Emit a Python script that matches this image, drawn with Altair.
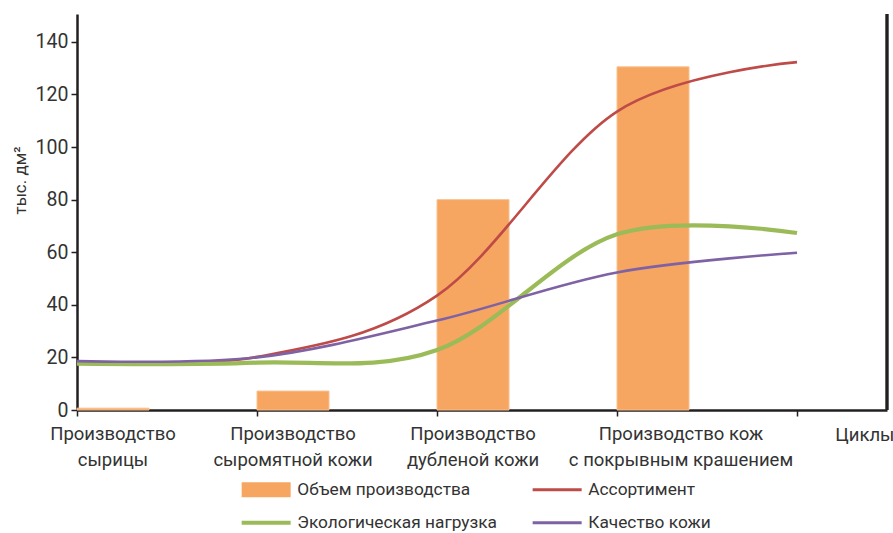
import altair as alt
import pandas as pd

# ---------------- data ----------------
categories = [
    "Производство\nсырицы",
    "Производство\nсыромятной кожи",
    "Производство\nдубленой кожи",
    "Производство кож\nс покрывным крашением",
]
cat_pos = [0, 1, 2, 3]
volume = [0.7, 7.2, 80.0, 130.5]

line_x = [0, 1, 2, 3, 4]
assortment = [18.3, 20.2, 43.5, 113.5, 132.3]
eco_load = [17.6, 18.0, 22.8, 66.8, 67.3]
quality = [18.6, 20.0, 34.0, 52.3, 59.8]

series_names = ["Объем производства", "Ассортимент", "Экологическая нагрузка", "Качество кожи"]
series_colors = ["#F6A660", "#BE4B48", "#9BBB59", "#7E62A4"]
y_ticks = [0, 20, 40, 60, 80, 100, 120, 140]
x_ticks = [0, 1, 2, 3, 4]

# ---------------- style ----------------
FONT = "Roboto"
FS = 18.5
LFS = 17.3
TXT = "#333333"
AX = "#231F20"
W, H = 810, 396
BAR_W = 0.4
X_MAX = 4.5
Y_MAX = 150.6

bars_df = pd.DataFrame({"pos": cat_pos, "vol": volume, "label": categories})
lines_df = pd.concat([
    pd.DataFrame({"x": line_x, "val": vals, "series": name})
    for name, vals in zip(series_names[1:], [assortment, eco_load, quality])
])
legend_df = pd.DataFrame({"series": series_names})

xs = alt.Scale(domain=[0, X_MAX], nice=False, zero=False)
ys = alt.Scale(domain=[0, Y_MAX], nice=False)

x_axis = alt.Axis(values=x_ticks, labels=False, ticks=True, tickSize=6, grid=False,
                  title="Циклы", titleFont=FONT, titleFontSize=FS, titleFontWeight="normal",
                  titleColor=TXT, titleAlign="right", titleBaseline="top",
                  titleX=817, titleY=15, titleAnchor="end")
y_axis = alt.Axis(values=y_ticks, tickSize=6, grid=False, labelPadding=3,
                  labelFont=FONT, labelFontSize=19.5, labelColor=TXT,
                  title="тыс. дм²", titleFont=FONT, titleFontSize=17, titleFontWeight="normal",
                  titleColor=TXT, titleX=-57, titleY=166, titleAlign="center",
                  titleBaseline="middle")

bars = alt.Chart(bars_df).transform_calculate(
    x2="datum.pos + %f" % BAR_W
).mark_bar(color=series_colors[0], stroke="#F9C08E", strokeWidth=1).encode(
    x=alt.X("pos:Q", scale=xs, axis=x_axis),
    x2="x2:Q",
    y=alt.Y("vol:Q", scale=ys, axis=y_axis),
    y2=alt.datum(0),
)

line_layers = []
for name, color, sw in zip(series_names[1:], series_colors[1:], [2.6, 4.2, 2.6]):
    line_layers.append(
        alt.Chart(lines_df).transform_filter(alt.datum.series == name)
        .mark_line(interpolate="cardinal", color=color, strokeWidth=sw)
        .encode(x=alt.X("x:Q", scale=xs, axis=x_axis),
                y=alt.Y("val:Q", scale=ys, axis=y_axis))
    )

last_cat = cat_pos[-1]
label_base = alt.Chart(bars_df).transform_calculate(
    xc="datum.pos + %f" % (BAR_W / 2)
)
label_kw = dict(lineBreak="\n", baseline="top", align="center", font=FONT, fontSize=FS,
                lineHeight=26, color=TXT)
label_enc = dict(x=alt.X("xc:Q", scale=xs, axis=x_axis), y=alt.value(H + 15), text="label:N")
labels_a = label_base.transform_filter(alt.datum.pos != last_cat).mark_text(**label_kw).encode(**label_enc)
labels_b = label_base.transform_filter(alt.datum.pos == last_cat).mark_text(dx=28, **label_kw).encode(**label_enc)

border = alt.Chart(bars_df).mark_rule(color=AX, strokeWidth=2.5).encode(
    x=alt.XDatum(X_MAX, scale=xs, axis=x_axis),
    y=alt.value(0),
    y2=alt.value(H),
)

rect_path = "M-1,-1.5H8.8V1.5H-1Z"
line_path = "M-1,-0.3H8.8V0.3H-1Z"
green_path = "M-1,-0.4H8.8V0.4H-1Z"
legend_obj = alt.Legend(title=None, orient="none", legendX=161, legendY=467, columns=2,
                        direction="horizontal",
                        columnPadding=32, rowPadding=15, symbolSize=100, symbolStrokeWidth=0,
                        labelOffset=42, labelFont=FONT, labelFontSize=LFS, labelColor=TXT,
                        labelLimit=400, padding=0, symbolOpacity=1)
legend_layer = alt.Chart(legend_df).mark_point(filled=True, opacity=0).encode(
    color=alt.Color("series:N", scale=alt.Scale(domain=series_names, range=series_colors),
                    legend=legend_obj),
    shape=alt.Shape("series:N", scale=alt.Scale(domain=series_names,
                    range=[rect_path, line_path, green_path, line_path]), legend=legend_obj),
)

chart = alt.layer(bars, *line_layers, border, labels_a, labels_b, legend_layer).properties(
    width=W, height=H,
    autosize=alt.AutoSizeParams(type="none"),
    padding={"left": 77, "top": 14, "right": 6, "bottom": 123},
    background="white",
).configure_view(stroke=None).configure_axis(
    domainColor=AX, domainWidth=2.5, tickColor=AX, tickWidth=1.5
)

chart.save("out.html", embed_options={"renderer": "svg", "actions": False})
